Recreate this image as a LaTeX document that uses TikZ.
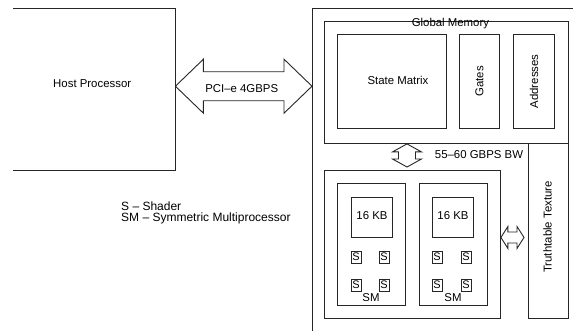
\documentclass[tikz,border=0pt]{standalone}
\usepackage{fontspec}
\setmainfont{Liberation Sans}
\usetikzlibrary{calc}
\tikzset{
  ln/.style={draw=black!85, line width=0.9pt},
  box/.style={ln, rectangle, inner sep=0pt, anchor=north west},
  hidden/.style={rectangle, inner sep=0pt, anchor=north west},
  sbox/.style={ln, rectangle, inner sep=0pt, minimum width=10pt, minimum height=12pt, font=\fontsize{11}{12}\selectfont},
  lbl/.style={inner sep=0pt, font=\fontsize{11.4}{13}\selectfont},
}
% horizontal double block arrow: #1 left tip, #2 right tip, #3 head length, #4 head half width, #5 shaft half width
\newcommand\hdblarrow[5]{%
  \draw[ln, fill=white] (#1) -- ++(#3,-#4) -- ++(0,#4-#5) -- ($(#2)+(-#3,-#5)$) -- ++(0,#5-#4) -- (#2)
    -- ++(-#3,#4) -- ++(0,#5-#4) -- ($(#1)+(#3,#5)$) -- ++(0,#4-#5) -- cycle;}
% vertical double block arrow: #1 top tip, #2 bottom tip
\newcommand\vdblarrow[5]{%
  \draw[ln, fill=white] (#1) -- ++(#4,#3) -- ++(#5-#4,0) -- ($(#2)+(#5,-#3)$) -- ++(#4-#5,0) -- (#2)
    -- ++(-#4,-#3) -- ++(#4-#5,0) -- ($(#1)+(-#5,#3)$) -- ++(#5-#4,0) -- cycle;}
\begin{document}
\begin{tikzpicture}[x=1pt, y=-1pt]
\useasboundingbox (0,0) rectangle (573,330);
% host processor (left side open)
\node[hidden, minimum width=162pt, minimum height=162pt] (host) at (13,8) {};
\draw[ln] (host.north west) -- (host.north east) -- (host.south east) -- (host.south west);
\node[lbl] (hostlbl) at ($(host.center)+(-2,-6)$) {Host Processor};
% GPU outer box (extends beyond the page at right and bottom)
\node[hidden, minimum width=268pt, minimum height=332pt] (gpu) at (312,8) {};
\draw[ln] (gpu.south west) -- (gpu.north west) -- (gpu.north east);
% global memory
\node[box, minimum width=244pt, minimum height=122pt] (gm) at (324,21) {};
\node[lbl, anchor=north] (gmlbl) at ($(gm.north)+(4,-2.5)$) {Global Memory};
\node[box, minimum width=109pt, minimum height=94pt] (state) at (337,34) {};
\node[lbl] (statelbl) at ($(state.center)+(6,-1)$) {State Matrix};
\node[box, minimum width=40pt, minimum height=94pt] (gates) at (459,34) {};
\node[lbl, rotate=90] (gateslbl) at (gates.center) {Gates};
\node[box, minimum width=41pt, minimum height=94pt] (addr) at (513,34) {};
\node[lbl, rotate=90] (addrlbl) at (addr.center) {Addresses};
% truthtable texture
\node[box, minimum width=40pt, minimum height=175pt] (tt) at (528,143) {};
\node[lbl, rotate=90] (ttlbl) at ($(tt.center)+(-1,-4)$) {Truthtable Texture};
% SM container
\node[box, minimum width=176pt, minimum height=148pt] (smc) at (324,170) {};
\node[box, minimum width=68pt, minimum height=122pt] (sm1) at (337,183) {};
\node[box, minimum width=68pt, minimum height=122pt] (sm2) at (419,183) {};
\node[box, minimum width=41pt, minimum height=40pt] (kb1) at (351,197) {};
\node[box, minimum width=41pt, minimum height=40pt] (kb2) at (432,197) {};
\node[lbl] (kb1lbl) at ($(kb1.center)+(0,-2)$) {16 KB};
\node[lbl] (kb2lbl) at ($(kb2.center)+(0,-2)$) {16 KB};
\node[sbox] (s11) at (356,257) {S};
\node[sbox] (s12) at (384,257) {S};
\node[sbox] (s13) at (356,285) {S};
\node[sbox] (s14) at (384,285) {S};
\node[sbox] (s21) at (437,257) {S};
\node[sbox] (s22) at (466,257) {S};
\node[sbox] (s23) at (437,285) {S};
\node[sbox] (s24) at (466,285) {S};
\node[lbl] (sm1lbl) at (371,298) {SM};
\node[lbl] (sm2lbl) at (453,298) {SM};
% PCI-e arrow
\coordinate (pciL) at ($(host.east)+(0,-3)$);
\coordinate (pciR) at (gpu.west |- pciL);
\hdblarrow{pciL}{pciR}{28}{27}{14.5}
\node[lbl] (pcilbl) at ($(pciL)!0.5!(pciR)+(-2,2)$) {PCI–e 4GBPS};
% memory bandwidth arrow
\coordinate (vaT) at ($(gm.south west)+(83,0)$);
\coordinate (vaB) at ($(smc.north west)+(83,-3)$);
\vdblarrow{vaT}{vaB}{8}{14.5}{8.5}
\node[lbl] (bwlbl) at (479,155) {55–60 GBPS BW};
% texture arrow
\coordinate (haL) at ($(smc.east)+(0,-7)$);
\coordinate (haR) at ($(tt.west |- haL)+(-4,0)$);
\hdblarrow{haL}{haR}{7}{11}{5.5}
% legend
\node[anchor=north west, align=left, inner sep=0pt, font=\fontsize{12}{11}\selectfont] (legend) at (121,202) {S – Shader\\SM – Symmetric Multiprocessor};
\end{tikzpicture}
\end{document}
